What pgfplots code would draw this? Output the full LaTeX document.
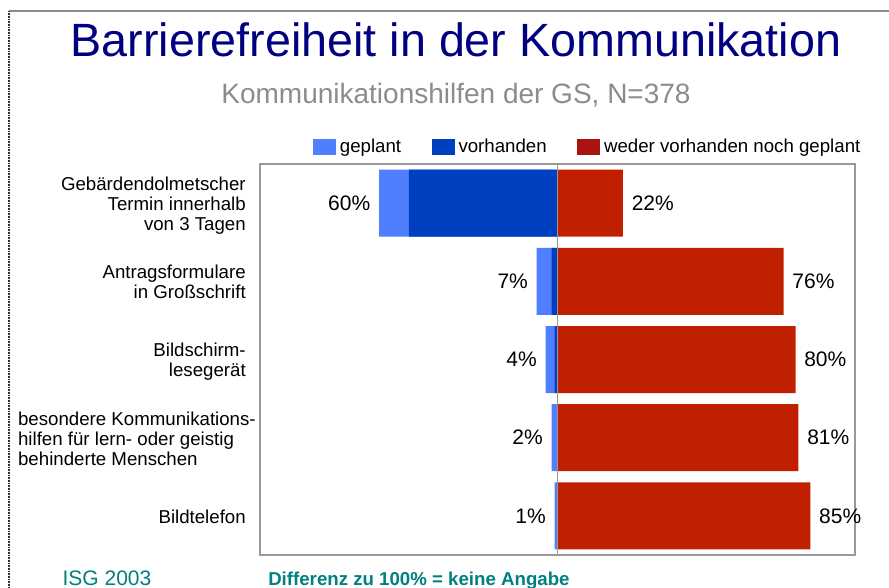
\documentclass[border=0pt]{standalone}
\usepackage{pgfplots}
\pgfplotsset{compat=1.18}
\usepackage{fontspec}
\setmainfont{Liberation Sans}
\definecolor{geplant}{HTML}{4F7FFF}
\definecolor{vorh}{HTML}{0040C0}
\definecolor{rot}{HTML}{C02000}
\definecolor{rotleg}{HTML}{AA1410}
\definecolor{navy}{HTML}{000080}
\definecolor{teal2}{HTML}{008080}
\definecolor{subgray}{HTML}{8C8C8C}

\pgfplotstableread{
y x l
1 -60 60
2 -7 7
3 -4 4
4 -2 2
5 -1 1
}\geplanttab
\pgfplotstableread{
y x
1 -50
2 -2
3 -1
4 0
5 0
}\vorhtab
\pgfplotstableread{
y x l
1 22 22
2 76 76
3 80 80
4 81 81
5 85 85
}\rottab

\begin{document}
\begin{tikzpicture}
\path[use as bounding box] (0,0) rectangle (666.75pt,-441pt);
\begin{axis}[
  at={(195pt,-416.25pt)}, anchor=south west,
  scale only axis, width=446.25pt, height=293.25pt,
  xmin=-100, xmax=100, ymin=0.5, ymax=5.5, y dir=reverse,
  xbar, bar shift=0pt, bar width=50.25pt,
  axis line style={draw=black!40, line width=0.9pt},
  xtick=\empty, ytick={1,2,3,4,5},
  yticklabels={
    {\begin{tabular}{@{}r@{}}Gebärdendolmetscher\\Termin innerhalb\\von 3 Tagen\end{tabular}},
    {\begin{tabular}{@{}r@{}}Antragsformulare\\in Großschrift\end{tabular}},
    {\begin{tabular}{@{}r@{}}Bildschirm-\\lesegerät\end{tabular}},
    {\begin{tabular}{@{}l@{}}besondere Kommunikations-\\hilfen für lern- oder geistig\\behinderte Menschen\end{tabular}\hspace*{-7.5pt}},
    {\begin{tabular}{@{}r@{}}Bildtelefon\end{tabular}}
  },
  major tick length=0pt,
  yticklabel style={font=\fontsize{14}{15}\selectfont, inner sep=0pt, xshift=-10.5pt, yshift=-2.5pt},
  legend style={draw=none, fill=none, at={(1.014,1.017)}, anchor=south east,
    legend columns=3, font=\fontsize{14}{16}\selectfont, inner sep=0pt,
    /tikz/every odd column/.append style={column sep=1pt},
    /tikz/every even column/.append style={column sep=21pt}},
  legend cell align=left,
  legend image code/.code={\fill[#1] (0pt,-6pt) rectangle (17pt,6pt);},
]
\addplot[fill=geplant, draw=none, point meta=explicit symbolic,
  nodes near coords={\pgfplotspointmeta\%},
  every node near coord/.append style={anchor=east, font=\fontsize{15.75}{18}\selectfont, inner xsep=6.4pt, inner ysep=0pt, text=black}]
  table[x=x, y=y, meta=l] {\geplanttab};
\addlegendentry{geplant}
\addplot[fill=vorh, draw=none] table[x=x, y=y] {\vorhtab};
\addlegendentry{vorhanden}
\addplot[fill=rot, draw=none, point meta=explicit symbolic,
  nodes near coords={\pgfplotspointmeta\%},
  every node near coord/.append style={anchor=west, font=\fontsize{15.75}{18}\selectfont, inner xsep=6.4pt, inner ysep=0pt, text=black},
  legend image code/.code={\fill[rotleg] (0pt,-6pt) rectangle (17pt,6pt);}]
  table[x=x, y=y, meta=l] {\rottab};
\addlegendentry{weder vorhanden noch geplant}
\draw[black!40, line width=0.9pt] (axis cs:0,0.5) -- (axis cs:0,5.5);
\end{axis}
\begin{scope}[x=0.75pt, y=-0.75pt]
\draw[black!45, line width=1.2pt] (9,11) -- (889,11);
\draw[black!80, line width=1.2pt, dash pattern=on 0.6pt off 0.6pt] (9,11) -- (9,588);
\node[anchor=base, text=navy, font=\fontsize{35}{40}\selectfont, inner sep=0pt] at (456,57) {Barrierefreiheit in der Kommunikation};
\node[anchor=base, text=subgray, font=\fontsize{21}{24}\selectfont, inner sep=0pt] at (456,104) {Kommunikationshilfen der GS, N=378};
\node[anchor=base, text=teal2, font=\fontsize{15.75}{18}\selectfont, inner sep=0pt] at (107,585) {ISG 2003};
\node[anchor=base west, text=teal2, font=\bfseries\fontsize{14}{16}\selectfont, inner sep=0pt] at (268,585) {Differenz zu 100\% = keine Angabe};
\end{scope}
\end{tikzpicture}
\end{document}
